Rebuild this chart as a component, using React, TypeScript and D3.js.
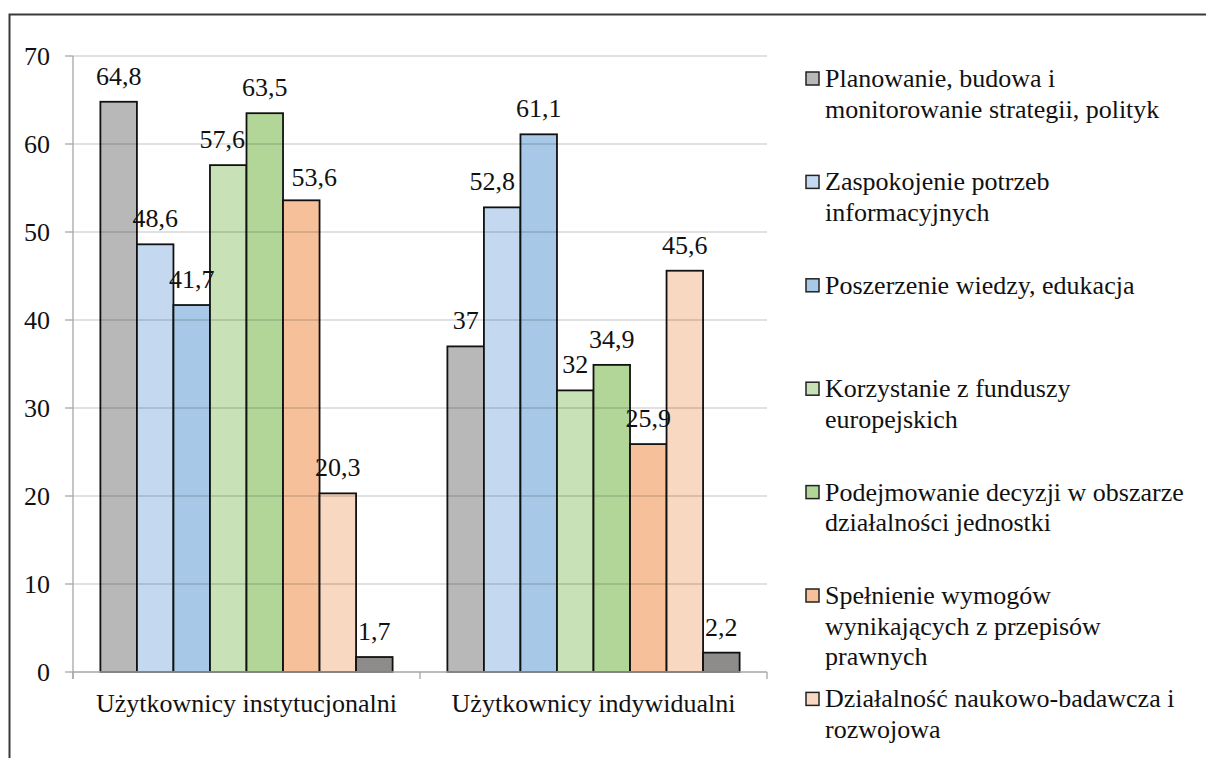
import React from 'react';
import * as d3 from 'd3';

const categories = ['Użytkownicy instytucjonalni', 'Użytkownicy indywidualni'];

const seriesNames = [
  'Planowanie, budowa i monitorowanie strategii, polityk',
  'Zaspokojenie potrzeb informacyjnych',
  'Poszerzenie wiedzy, edukacja',
  'Korzystanie z funduszy europejskich',
  'Podejmowanie decyzji w obszarze działalności jednostki',
  'Spełnienie wymogów wynikających z przepisów prawnych',
  'Działalność naukowo-badawcza i rozwojowa',
  'Inne',
];

const legendLines = [
  ['Planowanie, budowa i', 'monitorowanie strategii, polityk'],
  ['Zaspokojenie potrzeb', 'informacyjnych'],
  ['Poszerzenie wiedzy, edukacja'],
  ['Korzystanie z funduszy', 'europejskich'],
  ['Podejmowanie decyzji w obszarze', 'działalności jednostki'],
  ['Spełnienie wymogów', 'wynikających z przepisów', 'prawnych'],
  ['Działalność naukowo-badawcza i', 'rozwojowa'],
];

const institutional = [64.8, 48.6, 41.7, 57.6, 63.5, 53.6, 20.3, 1.7];
const individual = [37, 52.8, 61.1, 32, 34.9, 25.9, 45.6, 2.2];

const colors = ['#B9B8B9', '#C4D9EF', '#A7C8E6', '#C8E1B6', '#B2D598', '#F5C09A', '#F8D8C1', '#8E8B8B'];

const yTicks = [0, 10, 20, 30, 40, 50, 60, 70];

const FONT = "'Liberation Serif', 'Times New Roman', Tinos, 'DejaVu Serif', serif";

const fmt = (v: number) => String(v).replace('.', ',');

// small manual nudges of data labels (group-series): [dx, dy]
const nudges: Record<string, [number, number]> = {
  '0-3': [-6, 0],
  '0-5': [13, 3],
  '1-1': [-10, 0],
};

export default function App() {
  const W = 1206;
  const H = 758;
  const left = 73;
  const right = 767;
  const top = 56;
  const bottom = 672;

  const values = [institutional, individual];

  const x0 = d3.scaleBand<string>().domain(categories).range([left, right]).paddingInner(0).paddingOuter(0);
  const x1 = d3
    .scaleBand<number>()
    .domain(d3.range(seriesNames.length))
    .range([0, x0.bandwidth()])
    .paddingInner(0)
    .paddingOuter(0.75);
  const y = d3.scaleLinear().domain([0, 70]).range([bottom, top]);

  const fs = 26;
  const ts = { fontFamily: FONT, fontSize: fs, fill: '#111' } as React.CSSProperties;

  return (
    <svg
      width={W}
      height={H}
      style={{ position: 'absolute', left: 0, top: 0, background: '#fff', fontFamily: FONT }}
    >
      <rect x={0} y={0} width={W} height={H} fill="#fff" />
      {/* outer frame */}
      <path d={`M9.5,${H} V14.5 H${W}`} fill="none" stroke="#3a3a3a" strokeWidth={2} />

      {/* bars */}
      {categories.map((c, gi) => (
        <g key={c}>
          {values[gi].map((v, si) => (
            <rect
              key={si}
              x={(x0(c) as number) + (x1(si) as number)}
              y={y(v)}
              width={x1.bandwidth()}
              height={bottom - y(v)}
              fill={colors[si]}
              stroke="#111"
              strokeWidth={1.8}
            />
          ))}
        </g>
      ))}

      {/* gridlines (seen through the bars) */}
      {yTicks.slice(1).map((t) => (
        <line key={t} x1={left} x2={right} y1={y(t)} y2={y(t)} stroke="#000" strokeOpacity={0.16} strokeWidth={1.3} />
      ))}

      {/* axes */}
      <line x1={left} x2={left} y1={top} y2={bottom + 7} stroke="#A6A6A6" strokeWidth={1.3} />
      <line x1={left} x2={right} y1={bottom} y2={bottom} stroke="#A6A6A6" strokeWidth={1.3} />
      {yTicks.map((t) => (
        <line key={t} x1={left - 8} x2={left} y1={y(t)} y2={y(t)} stroke="#A6A6A6" strokeWidth={1.3} />
      ))}
      {[left, (x0(categories[1]) as number), right].map((xv, i) => (
        <line key={i} x1={xv} x2={xv} y1={bottom} y2={bottom + 7} stroke="#A6A6A6" strokeWidth={1.3} />
      ))}

      {/* y tick labels */}
      {yTicks.map((t) => (
        <text key={t} x={50} y={y(t) + 9} textAnchor="end" style={ts}>
          {t}
        </text>
      ))}

      {/* category labels */}
      {categories.map((c) => (
        <text key={c} x={(x0(c) as number) + x0.bandwidth() / 2} y={712} textAnchor="middle" style={ts}>
          {c}
        </text>
      ))}

      {/* data labels */}
      {categories.map((c, gi) =>
        values[gi].map((v, si) => {
          const n = nudges[`${gi}-${si}`] || [0, 0];
          return (
            <text
              key={`${gi}-${si}`}
              x={(x0(c) as number) + (x1(si) as number) + x1.bandwidth() / 2 + n[0]}
              y={y(v) - 17 + n[1]}
              textAnchor="middle"
              style={ts}
            >
              {fmt(v)}
            </text>
          );
        })
      )}

      {/* legend */}
      {legendLines.map((lines, i) => {
        const by = 87 + i * 103.4;
        return (
          <g key={i}>
            <rect x={806} y={by - 15} width={13} height={13} fill={colors[i]} stroke="#222" strokeWidth={1.5} />
            {lines.map((ln, k) => (
              <text key={k} x={825} y={by + k * 30.5} style={ts}>
                {ln}
              </text>
            ))}
          </g>
        );
      })}
    </svg>
  );
}
